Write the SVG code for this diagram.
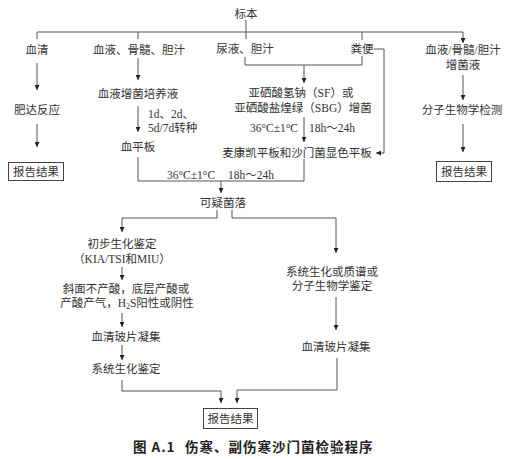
<svg xmlns="http://www.w3.org/2000/svg" width="512" height="459" viewBox="0 0 512 459">
<style>
.t{font-family:"Liberation Serif","Noto Sans CJK SC",serif;font-size:11.5px;fill:#333;text-anchor:middle;dominant-baseline:central}
.s{text-anchor:start}
.e{text-anchor:end}
.ln{fill:none;stroke:#555;stroke-width:1}
.bx{fill:#fff;stroke:#444;stroke-width:1}
.cap{font-family:"Noto Sans CJK SC","Liberation Sans",sans-serif;font-size:13.5px;font-weight:bold;fill:#222;letter-spacing:1px}
</style>
<defs>
<marker id="ar" viewBox="0 0 6 6" refX="6" refY="3" markerWidth="5" markerHeight="5" markerUnits="userSpaceOnUse" orient="auto">
<path d="M0,0 L6,3 L0,6 z" fill="#222"/>
</marker>
</defs>
<rect width="512" height="459" fill="#fff"/>
<g id="connectors">
<path class="ln" d="M246,20 V32"/>
<path class="ln" d="M37,32 H463"/>
<path class="ln" d="M37,32 V39"/>
<path class="ln" d="M138,32 V39"/>
<path class="ln" d="M246,32 V39"/>
<path class="ln" d="M362,32 V40"/>
<path class="ln" d="M463,32 V43" marker-end="url(#ar)"/>
<path class="ln" d="M37,63 V90" marker-end="url(#ar)"/>
<path class="ln" d="M37,124 V147" marker-end="url(#ar)"/>
<path class="ln" d="M138,58 V80" marker-end="url(#ar)"/>
<path class="ln" d="M138,106 V132" marker-end="url(#ar)"/>
<path class="ln" d="M138,157 V181 H304 V159"/>
<path class="ln" d="M221,181 V193" marker-end="url(#ar)"/>
<path class="ln" d="M245,57 V65 H362 V56"/>
<path class="ln" d="M304,65 V83" marker-end="url(#ar)"/>
<path class="ln" d="M374,49 H384 V153 H376" marker-end="url(#ar)"/>
<path class="ln" d="M304,117 V142" marker-end="url(#ar)"/>
<path class="ln" d="M463,75 V100" marker-end="url(#ar)"/>
<path class="ln" d="M463,124 V152" marker-end="url(#ar)"/>
<path class="ln" d="M217,210 V218 H122 V232" marker-end="url(#ar)"/>
<path class="ln" d="M232,210 V218 H336 V253" marker-end="url(#ar)"/>
<path class="ln" d="M122,267 V280" marker-end="url(#ar)"/>
<path class="ln" d="M122,313 V327" marker-end="url(#ar)"/>
<path class="ln" d="M122,345 V360" marker-end="url(#ar)"/>
<path class="ln" d="M122,380 V391 H221 V403" marker-end="url(#ar)"/>
<path class="ln" d="M336,297 V330" marker-end="url(#ar)"/>
<path class="ln" d="M337,358 V390 H237 V403" marker-end="url(#ar)"/>
</g>
<g id="n-specimen"><text class="t" x="246" y="14">标本</text></g>
<g id="n-serum"><text class="t" x="37" y="50">血清</text></g>
<g id="n-blood"><text class="t" x="139" y="50">血液、骨髓、胆汁</text></g>
<g id="n-urine"><text class="t" x="245" y="49">尿液、胆汁</text></g>
<g id="n-feces"><text class="t" x="362" y="49">粪便</text></g>
<g id="n-enrich-right"><text class="t" x="463" y="50">血液/骨髓/胆汁</text><text class="t" x="463" y="65">增菌液</text></g>
<g id="n-blood-culture"><text class="t" x="138" y="94">血液增菌培养液</text></g>
<g id="n-widal"><text class="t" x="37" y="110">肥达反应</text></g>
<g id="lbl-transfer"><text class="t s" x="148" y="114">1d、2d、</text><text class="t s" x="148" y="128">5d/7d转种</text></g>
<g id="n-blood-plate"><text class="t" x="138" y="147">血平板</text></g>
<g id="n-sf"><text class="t" x="301" y="93">亚硒酸氢钠（SF）或</text><text class="t" x="303" y="108">亚硒酸盐煌绿（SBG）增菌</text></g>
<g id="lbl-incub1"><text class="t e" x="298" y="128">36°C±1°C</text><text class="t s" x="309" y="128">18h～24h</text></g>
<g id="n-mac"><text class="t" x="297" y="153">麦康凯平板和沙门菌显色平板</text></g>
<g id="n-molecular"><text class="t" x="462" y="110">分子生物学检测</text></g>
<g id="n-report-r"><rect class="bx" x="436.5" y="161.5" width="55" height="20"/><text class="t" x="464" y="171.5">报告结果</text></g>
<g id="n-report-l"><rect class="bx" x="8.5" y="162.5" width="55" height="18"/><text class="t" x="36" y="171.5">报告结果</text></g>
<g id="lbl-incub2"><text class="t s" x="167" y="175">36°C±1°C</text><text class="t s" x="228" y="175">18h～24h</text></g>
<g id="n-suspect"><text class="t" x="223" y="203">可疑菌落</text></g>
<g id="n-prelim"><text class="t" x="122" y="244">初步生化鉴定</text><text class="t" x="122" y="259">（KIA/TSI和MIU）</text></g>
<g id="n-slant"><text class="t" x="126" y="289">斜面不产酸，底层产酸或</text><text class="t" x="127" y="303">产酸产气，H<tspan font-size="8" dy="3">2</tspan><tspan dy="-3">S阳性或阴性</tspan></text></g>
<g id="n-agg-l"><text class="t" x="126" y="337">血清玻片凝集</text></g>
<g id="n-sys-l"><text class="t" x="126" y="369">系统生化鉴定</text></g>
<g id="n-sys-r"><text class="t" x="332" y="272">系统生化或质谱或</text><text class="t" x="332" y="286">分子生物学鉴定</text></g>
<g id="n-agg-r"><text class="t" x="336" y="347">血清玻片凝集</text></g>
<g id="n-report-b"><rect class="bx" x="203.5" y="408.5" width="54" height="20"/><text class="t" x="230.5" y="418.5">报告结果</text></g>
<g id="caption"><text class="cap" x="133" y="452">图 A.1</text><text class="cap" x="185" y="452">伤寒、副伤寒沙门菌检验程序</text></g>
</svg>
